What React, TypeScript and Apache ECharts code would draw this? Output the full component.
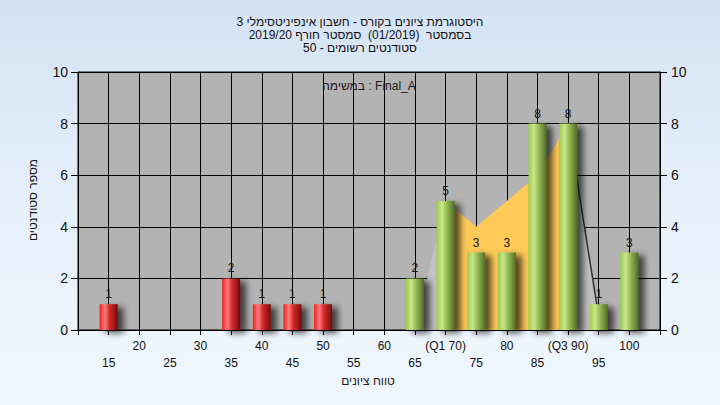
import React, { useEffect, useRef } from "react";
import * as echarts from "echarts";

// ---- data ----
const failBins = [15, 35, 40, 45, 50];
const failCounts = [1, 2, 1, 1, 1];
const passBins = [65, 70, 75, 80, 85, 90, 95, 100];
const passCounts = [2, 5, 3, 3, 8, 8, 1, 3];

const lowerTailX = [65, 70];
const lowerTailY = [0, 5];
const iqrX = [70, 75, 80, 85, 90];
const iqrY = [5, 4, 5, 6, 8];
const upperTailX = [90, 95];
const upperTailY = [8, 0.5];

const xTickValues = [15, 20, 25, 30, 35, 40, 45, 50, 55, 60, 65, 70, 75, 80, 85, 90, 95, 100];
const xTickLabels = ["15", "20", "25", "30", "35", "40", "45", "50", "55", "60", "65", "(Q1 70)", "75", "80", "85", "(Q3 90)", "95", "100"];

const titleLines = [
  "היסטוגרמת ציונים בקורס - חשבון אינפיניטסימלי 3",
  "בסמסטר  (01/2019)  סמסטר חורף 2019/20",
  "סטודנטים רשומים - 50",
];
const taskLabel = "במשימה : Final_A";
const xName = "טווח ציונים";
const yName = "מספר סטודנטים";

const FONT = "'Liberation Sans', Arial, sans-serif";

function zip(xs: number[], ys: number[]) {
  return xs.map((x, i) => [x, ys[i]]);
}

export default function App() {
  const ref = useRef<HTMLDivElement>(null);
  useEffect(() => {
    if (!ref.current) return;
    const chart = echarts.init(ref.current, undefined, { renderer: "svg" });
    const redGrad = new echarts.graphic.LinearGradient(0, 0, 1, 0, [
      { offset: 0, color: "#ee1f1f" },
      { offset: 0.3, color: "#ff7c7c" },
      { offset: 0.55, color: "#d42a2a" },
      { offset: 0.85, color: "#941717" },
      { offset: 1, color: "#6a0c0c" },
    ]);
    const greenGrad = new echarts.graphic.LinearGradient(0, 0, 1, 0, [
      { offset: 0, color: "#9bcb48" },
      { offset: 0.3, color: "#c8e68c" },
      { offset: 0.55, color: "#97bd55" },
      { offset: 0.85, color: "#6a8836" },
      { offset: 1, color: "#4d6824" },
    ]);
    const barShadow = {
      shadowBlur: 6,
      shadowOffsetX: 6,
      shadowOffsetY: 3,
      shadowColor: "rgba(0,0,0,0.65)",
    };
    const valueLabel = {
      show: true,
      position: "top" as const,
      distance: 4,
      color: "#111",
      fontSize: 12,
      fontFamily: FONT,
    };
    const yAxisCommon = {
      type: "value" as const,
      min: 0,
      max: 10,
      interval: 2,
      axisLine: { show: true, lineStyle: { color: "#000", width: 1 } },
      axisTick: { show: true, length: 7, lineStyle: { color: "#000" } },
      axisLabel: { color: "#111", fontSize: 14, fontFamily: FONT, margin: 10 },
    };
    chart.setOption({
      animation: false,
      backgroundColor: "transparent",
      title: {
        text: titleLines.join("\n"),
        left: "center",
        top: 10,
        textStyle: {
          fontSize: 12,
          lineHeight: 13,
          fontWeight: "normal",
          color: "#111",
          fontFamily: FONT,
        },
      },
      grid: {
        left: 78,
        right: 60,
        top: 72,
        bottom: 75,
        show: true,
        backgroundColor: "#b3b3b3",
        borderColor: "#000",
        borderWidth: 1,
      },
      xAxis: {
        type: "value",
        min: 10,
        max: 105,
        interval: 5,
        axisLine: { show: true, onZero: false, lineStyle: { color: "#000" } },
        axisTick: { show: true, length: 5, lineStyle: { color: "#000" } },
        splitLine: { show: true, lineStyle: { color: "#000", width: 1 } },
        axisLabel: {
          color: "#111",
          fontSize: 12,
          lineHeight: 17,
          fontFamily: FONT,
          margin: 7,
          showMinLabel: true,
          showMaxLabel: true,
          formatter: (v: number) => {
            const i = xTickValues.indexOf(Math.round(v));
            if (i < 0) return "";
            const t = xTickLabels[i];
            return Math.round(v) % 10 === 0 ? t : "\n" + t;
          },
        },
      },
      yAxis: [
        {
          ...yAxisCommon,
          position: "left",
          splitLine: { show: true, lineStyle: { color: "#000", width: 1 } },
        },
        {
          ...yAxisCommon,
          position: "right",
          splitLine: { show: false },
          axisLabel: { ...yAxisCommon.axisLabel, margin: 11 },
        },
      ],
      graphic: [
        {
          type: "text",
          x: 369,
          y: 86,
          style: {
            text: taskLabel,
            font: `12px ${FONT}`,
            fill: "#1a1a1a",
            align: "center",
            verticalAlign: "middle",
          },
          z: 10,
        },
        {
          type: "text",
          x: 368,
          y: 381,
          style: {
            text: xName,
            font: `12px ${FONT}`,
            fill: "#1a1a1a",
            align: "center",
            verticalAlign: "middle",
          },
        },
        {
          type: "text",
          x: 33,
          y: 200,
          rotation: Math.PI / 2,
          style: {
            text: yName,
            font: `12px ${FONT}`,
            fill: "#1a1a1a",
            align: "center",
            verticalAlign: "middle",
          },
        },
      ],
      series: [
        {
          type: "line",
          data: zip(lowerTailX, lowerTailY),
          symbol: "none",
          lineStyle: { opacity: 0 },
          areaStyle: { color: "#c1c1c1", opacity: 1 },
          z: 2,
        },
        {
          type: "line",
          data: zip(iqrX, iqrY),
          symbol: "none",
          lineStyle: { opacity: 0 },
          areaStyle: { color: "#ffca57", opacity: 1 },
          z: 2,
        },
        {
          type: "line",
          data: zip(upperTailX, upperTailY),
          symbol: "none",
          lineStyle: { color: "#333", width: 1.5 },
          areaStyle: { color: "#c1c1c1", opacity: 1 },
          z: 2,
        },
        {
          type: "bar",
          data: zip(failBins, failCounts),
          barWidth: 18,
          barGap: "-100%",
          itemStyle: { color: redGrad, ...barShadow },
          label: valueLabel,
          z: 4,
        },
        {
          type: "bar",
          data: zip(passBins, passCounts),
          barWidth: 18,
          barGap: "-100%",
          itemStyle: { color: greenGrad, ...barShadow },
          label: valueLabel,
          z: 4,
        },
      ],
    });
    return () => chart.dispose();
  }, []);
  return (
    <div
      ref={ref}
      style={{
        position: "fixed",
        left: 0,
        top: 0,
        width: 720,
        height: 405,
        background: "linear-gradient(to bottom, #d4e2f4 0%, #e6f0fb 50%, #f0f7fe 100%)",
      }}
    />
  );
}
